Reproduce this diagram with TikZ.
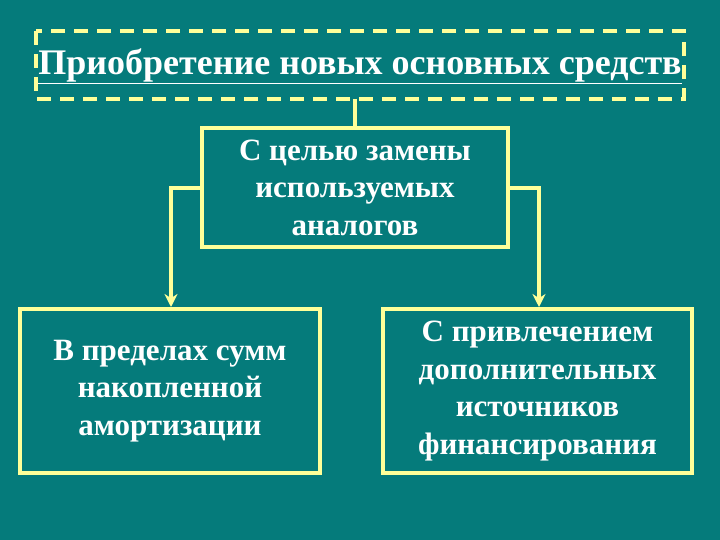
\documentclass[tikz,border=0pt]{standalone}
\usepackage{fontspec}
\setmainfont{Liberation Serif}
\usetikzlibrary{arrows.meta}
\definecolor{bg}{HTML}{057B7B}
\definecolor{ln}{HTML}{FFFF99}
\tikzset{
  box/.style={draw=ln, line width=3.5pt, inner sep=0pt},
  txt/.style={text=white, font=\bfseries\fontsize{31}{37.5}\selectfont, align=center},
  conn/.style={draw=ln, line width=3.5pt},
  arr/.style={conn, -{Stealth[length=13pt,width=13pt]}}
}
\begin{document}
\begin{tikzpicture}[x=1pt,y=-1pt]
\fill[bg] (0,0) rectangle (720,540);
\useasboundingbox (0,0) rectangle (720,540);
\draw[ln, line width=3.5pt, dash pattern=on 14pt off 9pt] (36,31) rectangle (684,99);
\node[txt, font=\bfseries\fontsize{36}{40}\selectfont] (t) at (360,66) {\underline{Приобретение новых основных средств}};
\coordinate (tb) at (355,99);
\node[box, minimum width=306pt, minimum height=119pt] (m) at (355,187.5) {};
\node[txt] at (m) {С целью замены\\используемых\\аналогов};
\node[box, minimum width=300pt, minimum height=164pt] (l) at (170,391) {};
\node[txt] at (l) {В пределах сумм\\накопленной\\амортизации};
\node[box, minimum width=309pt, minimum height=164pt] (r) at (537.5,391) {};
\node[txt] at (r) {С привлечением\\дополнительных\\источников\\финансирования};
\draw[conn] (tb) -- (m.north);
\draw[arr] (m.west |- 0,188) -- (171,188) -- (171,307);
\draw[arr] (m.east |- 0,188) -- (539,188) -- (539,307);
\end{tikzpicture}
\end{document}
